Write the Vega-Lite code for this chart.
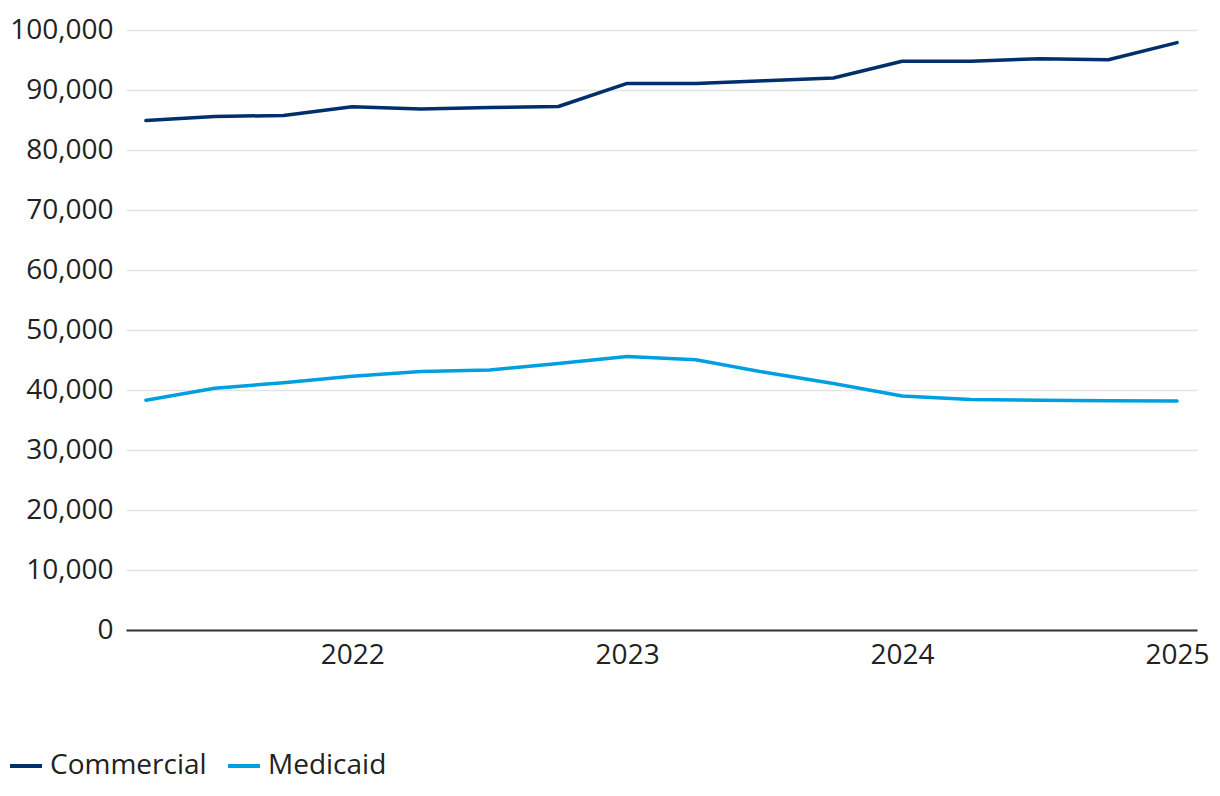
{
  "$schema": "https://vega.github.io/schema/vega-lite/v6.json",
  "width": 1071,
  "height": 600,
  "autosize": "none",
  "padding": {"left": 126, "top": 30, "right": 23, "bottom": 166},
  "background": "white",
  "config": {
    "view": {"stroke": null},
    "font": "Open Sans",
    "axis": {"labelFont": "Open Sans", "labelFontSize": 28, "labelColor": "#222222"}
  },
  "data": {
    "values": [
      {"date": "2021-04", "series": "Commercial", "value": 84900},
      {"date": "2021-07", "series": "Commercial", "value": 85600},
      {"date": "2021-10", "series": "Commercial", "value": 85750},
      {"date": "2022-01", "series": "Commercial", "value": 87200},
      {"date": "2022-04", "series": "Commercial", "value": 86850},
      {"date": "2022-07", "series": "Commercial", "value": 87100},
      {"date": "2022-10", "series": "Commercial", "value": 87250},
      {"date": "2023-01", "series": "Commercial", "value": 91100},
      {"date": "2023-04", "series": "Commercial", "value": 91100},
      {"date": "2023-07", "series": "Commercial", "value": 91550},
      {"date": "2023-10", "series": "Commercial", "value": 92000},
      {"date": "2024-01", "series": "Commercial", "value": 94800},
      {"date": "2024-04", "series": "Commercial", "value": 94800},
      {"date": "2024-07", "series": "Commercial", "value": 95200},
      {"date": "2024-10", "series": "Commercial", "value": 95050},
      {"date": "2025-01", "series": "Commercial", "value": 97900},
      {"date": "2021-04", "series": "Medicaid", "value": 38300},
      {"date": "2021-07", "series": "Medicaid", "value": 40300},
      {"date": "2021-10", "series": "Medicaid", "value": 41200},
      {"date": "2022-01", "series": "Medicaid", "value": 42300},
      {"date": "2022-04", "series": "Medicaid", "value": 43100},
      {"date": "2022-07", "series": "Medicaid", "value": 43350},
      {"date": "2022-10", "series": "Medicaid", "value": 44400},
      {"date": "2023-01", "series": "Medicaid", "value": 45600},
      {"date": "2023-04", "series": "Medicaid", "value": 45050},
      {"date": "2023-07", "series": "Medicaid", "value": 42950},
      {"date": "2023-10", "series": "Medicaid", "value": 41100},
      {"date": "2024-01", "series": "Medicaid", "value": 39000},
      {"date": "2024-04", "series": "Medicaid", "value": 38400},
      {"date": "2024-07", "series": "Medicaid", "value": 38300},
      {"date": "2024-10", "series": "Medicaid", "value": 38200},
      {"date": "2025-01", "series": "Medicaid", "value": 38150}
    ]
  },
  "mark": {"type": "line", "strokeWidth": 3.5, "strokeCap": "round", "strokeJoin": "round"},
  "encoding": {
    "x": {
      "field": "date",
      "type": "ordinal",
      "scale": {"type": "point", "padding": 0.29},
      "axis": {
        "title": null,
        "labelAngle": 0,
        "ticks": false,
        "grid": false,
        "domainColor": "#333333",
        "domainWidth": 2,
        "labelPadding": 11,
        "labelOverlap": false,
        "labelExpr": "slice(datum.value, 5) == '01' ? slice(datum.value, 0, 4) : ''"
      }
    },
    "y": {
      "field": "value",
      "type": "quantitative",
      "scale": {"domain": [0, 100000], "nice": false},
      "axis": {
        "title": null,
        "values": [0, 10000, 20000, 30000, 40000, 50000, 60000, 70000, 80000, 90000, 100000],
        "format": ",.0f",
        "domain": false,
        "ticks": false,
        "labelPadding": 13,
        "gridColor": "#e3e3e3",
        "gridWidth": 1.5
      }
    },
    "color": {
      "field": "series",
      "type": "nominal",
      "scale": {"domain": ["Commercial", "Medicaid"], "range": ["#002f6c", "#00a0e0"]},
      "legend": {
        "title": null,
        "orient": "none",
        "direction": "horizontal",
        "legendX": -118,
        "legendY": 718,
        "symbolType": "stroke",
        "symbolSize": 1024,
        "symbolStrokeWidth": 4,
        "labelFont": "Open Sans",
        "labelFontSize": 28,
        "labelColor": "#222222",
        "labelOffset": 6,
        "columnPadding": 13
      }
    }
  }
}
